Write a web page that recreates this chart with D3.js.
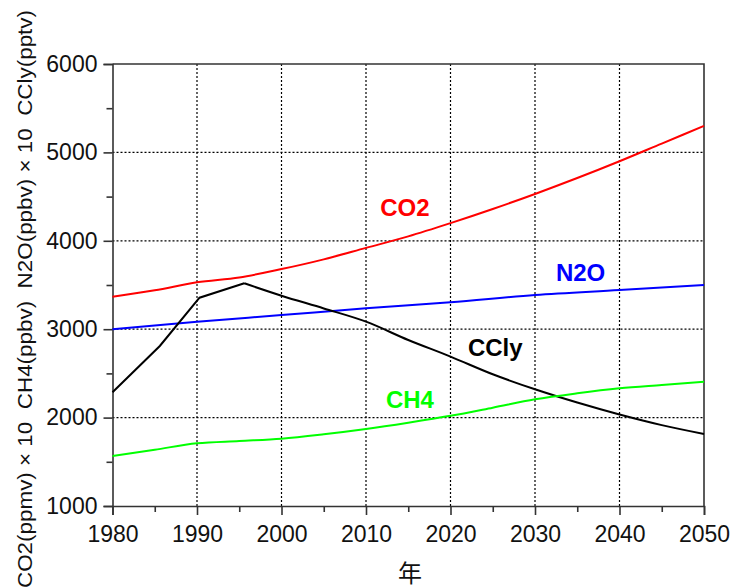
<!DOCTYPE html>
<html>
<head>
<meta charset="utf-8">
<script src="https://cdn.jsdelivr.net/npm/d3@7"></script>
<style>
  body { margin: 0; background: #fff; }
  svg { display: block; }
</style>
</head>
<body>
<div id="chart"></div>
<script>
// data
var co2Years = [1980, 1985, 1990, 1995, 2000, 2005, 2010, 2015, 2020, 2025, 2030, 2035, 2040, 2045, 2050];
var co2Values = [3368, 3440, 3530, 3585, 3680, 3790, 3920, 4050, 4200, 4360, 4530, 4710, 4900, 5100, 5300];

var n2oYears = [1980, 1990, 2000, 2010, 2020, 2030, 2040, 2050];
var n2oValues = [3000, 3085, 3160, 3237, 3305, 3387, 3443, 3500];

var cclyYears = [1980, 1985.6, 1990.3, 1995.6, 2000, 2005, 2010, 2015, 2020, 2025, 2030, 2035, 2040, 2045, 2050];
var cclyValues = [2286, 2810, 3356, 3519, 3379, 3235, 3085, 2878, 2690, 2490, 2320, 2170, 2035, 1915, 1815];

var ch4Years = [1980, 1985, 1990, 1995, 2000, 2005, 2010, 2015, 2020, 2025, 2030, 2035, 2040, 2045, 2050];
var ch4Values = [1566, 1637, 1709, 1735, 1761, 1811, 1871, 1942, 2020, 2112, 2207, 2275, 2331, 2369, 2406];

var xTicks = [1980, 1990, 2000, 2010, 2020, 2030, 2040, 2050];
var yTicks = [1000, 2000, 3000, 4000, 5000, 6000];

var yTitle = "CO2(ppmv) × 10  CH4(ppbv)  N2O(ppbv) × 10  CCly(pptv)";
var xTitle = "年";

// size and margins
var margin = {top: 64, right: 29, bottom: 82, left: 112.5};
var width = 733 - margin.left - margin.right;
var height = 588 - margin.top - margin.bottom;

var svg = d3.select("#chart")
  .append("svg")
  .attr("width", 733)
  .attr("height", 588);

var g = svg.append("g")
  .attr("transform", "translate(" + margin.left + "," + margin.top + ")");

var x = d3.scaleLinear().domain([1980, 2050]).range([0, width]);
var y = d3.scaleLinear().domain([1000, 6000]).range([height, 0]);

var axisColor = "#333";
var tickFont = "'Liberation Sans', Arial, sans-serif";

// dotted grid
g.append("g")
  .selectAll("line")
  .data(xTicks.slice(1, -1))
  .enter()
  .append("line")
  .attr("x1", function(d) { return x(d); })
  .attr("x2", function(d) { return x(d); })
  .attr("y1", 0)
  .attr("y2", height)
  .attr("stroke", "#000")
  .attr("stroke-width", 1.2)
  .attr("stroke-dasharray", "2,2");

g.append("g")
  .selectAll("line")
  .data(yTicks.slice(1, -1))
  .enter()
  .append("line")
  .attr("x1", 0)
  .attr("x2", width)
  .attr("y1", function(d) { return y(d); })
  .attr("y2", function(d) { return y(d); })
  .attr("stroke", "#000")
  .attr("stroke-width", 1.2)
  .attr("stroke-dasharray", "2,2");

// axes: major ticks with labels, minor ticks without
g.append("g")
  .attr("transform", "translate(0," + height + ")")
  .call(d3.axisBottom(x).tickValues(xTicks).tickFormat(d3.format("d")).tickSize(9).tickPadding(11));

g.append("g")
  .attr("transform", "translate(0," + height + ")")
  .call(d3.axisBottom(x).tickValues(d3.range(1985, 2050, 10)).tickFormat("").tickSize(6))
  .select(".domain").remove();

g.append("g")
  .call(d3.axisLeft(y).tickValues(yTicks).tickFormat(d3.format("d")).tickSize(9).tickPadding(6));

g.append("g")
  .call(d3.axisLeft(y).tickValues(d3.range(1500, 6000, 1000)).tickFormat("").tickSize(6))
  .select(".domain").remove();

g.selectAll(".domain, .tick line")
  .attr("stroke", axisColor)
  .attr("stroke-width", 1.6);

g.selectAll(".tick text")
  .attr("fill", "#111")
  .style("font-family", tickFont)
  .style("font-size", "23px");

// top and right border
g.append("path")
  .attr("d", "M0,0H" + width + "V" + height)
  .attr("fill", "none")
  .attr("stroke", axisColor)
  .attr("stroke-width", 1.6);

// the four series (CCly: straight up to the peak, smooth after it)
var series = [
  {name: "CO2", years: co2Years, values: co2Values, color: "#ff0000", split: 0, lx: 2014.6, ly: 216},
  {name: "N2O", years: n2oYears, values: n2oValues, color: "#0000ff", split: 0, lx: 2035.4, ly: 281},
  {name: "CCly", years: cclyYears, values: cclyValues, color: "#000000", split: 3, lx: 2025.3, ly: 356},
  {name: "CH4", years: ch4Years, values: ch4Values, color: "#00ff00", split: 0, lx: 2015.2, ly: 408}
];

series.forEach(function(s) {
  var pts = s.years.map(function(yr, i) { return [yr, s.values[i]]; });
  var straight = d3.line()
    .x(function(d) { return x(d[0]); })
    .y(function(d) { return y(d[1]); });
  var smooth = d3.line()
    .x(function(d) { return x(d[0]); })
    .y(function(d) { return y(d[1]); })
    .curve(d3.curveMonotoneX);

  var d = "";
  if (s.split > 0) d += straight(pts.slice(0, s.split + 1));
  d += smooth(pts.slice(s.split));

  g.append("path")
    .attr("d", d)
    .attr("fill", "none")
    .attr("stroke", s.color)
    .attr("stroke-width", 2);

  svg.append("text")
    .attr("x", margin.left + x(s.lx))
    .attr("y", s.ly)
    .attr("text-anchor", "middle")
    .attr("fill", s.color)
    .style("font-family", tickFont)
    .style("font-size", "24px")
    .style("font-weight", "bold")
    .text(s.name);
});

// axis titles
svg.append("text")
  .attr("transform", "translate(32,299) rotate(-90)")
  .attr("text-anchor", "middle")
  .attr("textLength", 578)
  .attr("lengthAdjust", "spacingAndGlyphs")
  .attr("fill", "#111")
  .style("white-space", "pre")
  .style("font-family", tickFont)
  .style("font-size", "20px")
  .text(yTitle);

svg.append("text")
  .attr("x", 410)
  .attr("y", 582)
  .attr("text-anchor", "middle")
  .attr("fill", "#111")
  .style("font-family", "'Noto Sans CJK JP', sans-serif")
  .style("font-size", "24px")
  .text(xTitle);
</script>
</body>
</html>
